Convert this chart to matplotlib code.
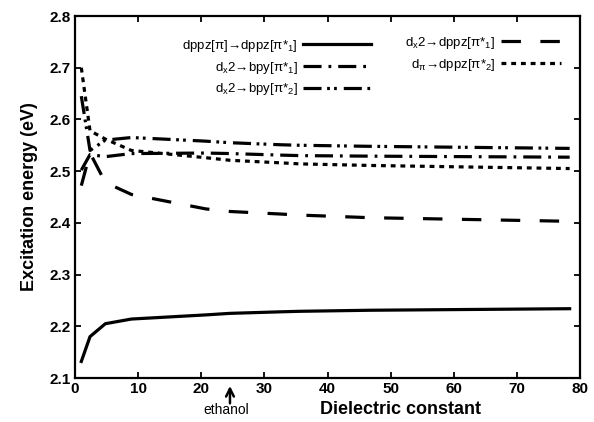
import matplotlib
matplotlib.use('Agg')
import matplotlib.pyplot as plt

plt.rcParams['font.family'] = ['Liberation Sans', 'DejaVu Sans']
plt.rcParams['mathtext.fontset'] = 'custom'
plt.rcParams['mathtext.rm'] = 'Liberation Sans'
plt.rcParams['mathtext.it'] = 'Liberation Sans'
plt.rcParams['lines.scale_dashes'] = False

# Dielectric constants of the solvents
eps = [1.0, 2.38, 4.81, 8.93, 20.7, 24.55, 32.63, 35.69, 46.7, 78.36]

# Excitation energies (eV)
dppz_dppz1 = [2.132, 2.180, 2.205, 2.214, 2.222, 2.225, 2.228, 2.229, 2.231, 2.234]
dx2_bpy1 = [2.502, 2.532, 2.528, 2.534, 2.535, 2.534, 2.531, 2.530, 2.529, 2.527]
dx2_bpy2 = [2.645, 2.540, 2.560, 2.565, 2.558, 2.555, 2.551, 2.550, 2.548, 2.544]
dx2_dppz1 = [2.472, 2.535, 2.478, 2.455, 2.427, 2.422, 2.417, 2.415, 2.410, 2.403]
dpi_dppz2 = [2.700, 2.578, 2.562, 2.540, 2.526, 2.521, 2.516, 2.514, 2.511, 2.505]

labels_left = [r'dppz[$\pi$]→dppz[$\pi$*$_1$]',
               r'd$_\mathrm{x}$2→bpy[$\pi$*$_1$]',
               r'd$_\mathrm{x}$2→bpy[$\pi$*$_2$]']
labels_right = [r'd$_\mathrm{x}$2→dppz[$\pi$*$_1$]',
                r'd$_\pi$→dppz[$\pi$*$_2$]']

fig = plt.figure(figsize=(5.94, 4.22), dpi=100)
ax = fig.add_axes([75/594, 1 - 378/422, 505/594, 362/422])

lw = 2.3
l1, = ax.plot(eps, dppz_dppz1, color='black', lw=lw, linestyle='-')
l2, = ax.plot(eps, dx2_bpy1, color='black', lw=lw, linestyle=(0, (13, 5, 2, 5)))
l3, = ax.plot(eps, dx2_bpy2, color='black', lw=lw, linestyle=(0, (13, 4, 2, 3, 2, 5)))
l4, = ax.plot(eps, dx2_dppz1, color='black', lw=lw, linestyle=(0, (14, 14)))
l5, = ax.plot(eps, dpi_dppz2, color='black', lw=lw, linestyle=(0, (3.5, 3.5)))

ax.set_xlim(0, 80)
ax.set_ylim(2.1, 2.8)
ax.set_xticks(range(0, 81, 10))
ax.set_yticks([2.1, 2.2, 2.3, 2.4, 2.5, 2.6, 2.7, 2.8])
ax.tick_params(direction='in', top=True, right=True, width=1.3, length=4,
               labelsize=11, pad=3)
for t in ax.get_xticklabels() + ax.get_yticklabels():
    t.set_fontweight('bold')
for s in ax.spines.values():
    s.set_linewidth(1.6)

fig.text(30/594, 1 - 197/422, 'Excitation energy (eV)', rotation=90,
         ha='center', va='center', fontsize=13, fontweight='bold')
fig.text(400/594, 1 - 409/422, 'Dielectric constant', ha='center', va='center',
         fontsize=13, fontweight='bold')

# ethanol marker
ax.annotate('', xy=(24.55, -0.022), xycoords=('data', 'axes fraction'),
            xytext=(24.55, -0.07), textcoords=('data', 'axes fraction'),
            arrowprops=dict(arrowstyle='->', lw=1.8, color='black',
                            mutation_scale=14, shrinkA=0, shrinkB=0),
            annotation_clip=False)
fig.text(226/594, 1 - 410/422, 'ethanol', ha='center', va='center', fontsize=10)

leg1 = ax.legend([l1, l2, l3], labels_left, loc='upper right',
                 bbox_to_anchor=((378 - 75)/505, 1 - 15/362), frameon=False,
                 markerfirst=False, fontsize=9.5, handlelength=5.2,
                 handletextpad=0.4, labelspacing=0.45, borderpad=0)
ax.add_artist(leg1)
ax.legend([l4, l5], labels_right, loc='upper right',
          bbox_to_anchor=((568 - 75)/505, 1 - 12/362), frameon=False,
          markerfirst=False, fontsize=9.5, handlelength=4.6,
          handletextpad=0.4, labelspacing=0.45, borderpad=0)

fig.savefig('out.png', dpi=100)
